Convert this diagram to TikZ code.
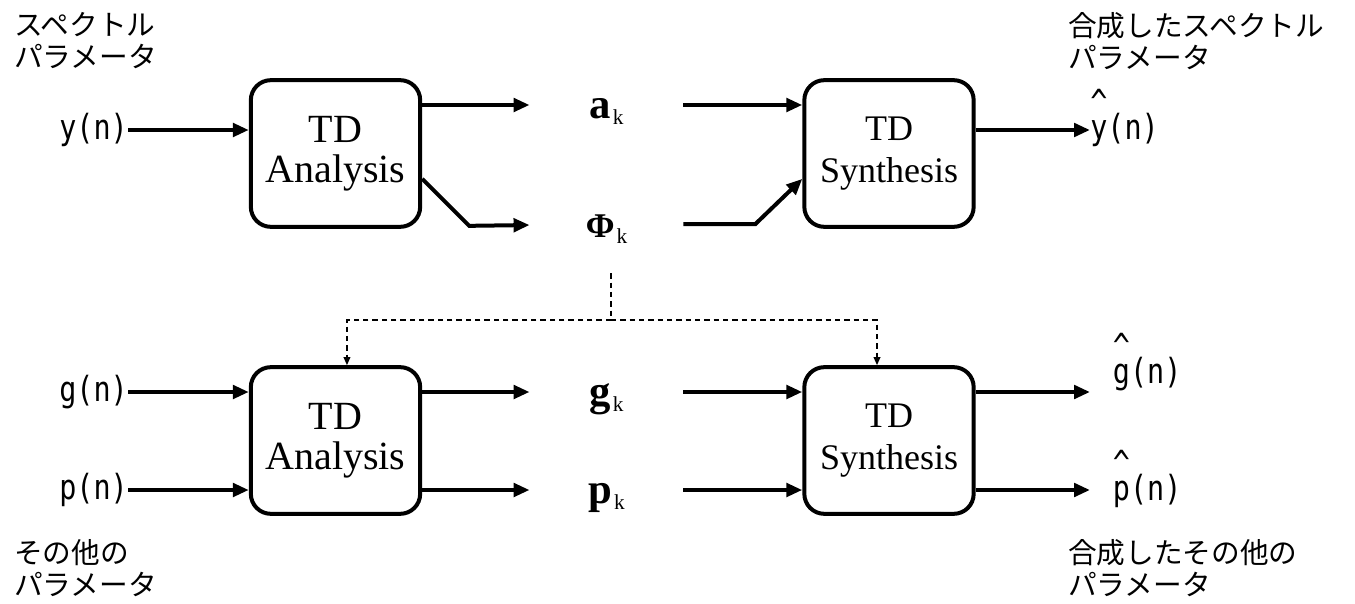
\documentclass[tikz,border=0pt]{standalone}
\usepackage{fontspec}
\setmainfont{Liberation Serif}
\newfontfamily\jpfont{Noto Sans CJK JP}
\newfontfamily\sigfont[FakeStretch=0.82]{DejaVu Sans Mono}
\usetikzlibrary{arrows.meta}

\newcommand{\hatted}[1]{\rlap{\raisebox{0.72em}[0pt][0pt]{\textasciicircum}}#1}
\newcommand{\subk}{\kern1.5pt\raisebox{-5pt}{\fontsize{16}{16}\selectfont k}}

\begin{document}
\begin{tikzpicture}[
x=0.75pt, y=-0.75pt,
tdbox/.style={
    draw,
    line width=3pt,
    rounded corners=15pt,
    minimum width=127pt,
    minimum height=110pt,
    align=center,
    inner sep=0pt},
ana/.style={tdbox, font=\fontsize{30}{30}\selectfont},
syn/.style={tdbox, font=\fontsize{27}{32}\selectfont},
sig/.style={font=\sigfont\fontsize{26}{26}\selectfont, inner sep=0pt},
outsig/.style={sig, anchor=west, inner xsep=17pt},
param/.style={
    minimum width=115pt,
    inner sep=0pt,
    text height=19.5pt,
    text depth=0pt,
    font=\fontsize{32}{32}\selectfont},
jp/.style={
    font=\jpfont\fontsize{21.5}{24}\selectfont,
    align=left,
    anchor=north west,
    inner sep=0pt},
arr/.style={line width=3pt, -{Triangle[length=12pt,width=10pt]}},
dasharr/.style={line width=1pt, dash pattern=on 4pt off 3pt, -{Triangle[length=6pt,width=5pt]}}
]
\useasboundingbox (0,0) rectangle (1355,603);

% blocks
\node at (335.5, 153.5) [ana] (ana1) {TD\\Analysis};
\node at (889, 153.5) [syn] (syn1) {TD\\Synthesis};
\node at (335.5, 440.5) [ana] (ana2) {TD\\Analysis};
\node at (889, 440.5) [syn] (syn2) {TD\\Synthesis};

% inputs
\node at (128, 130) [sig, anchor=east] (yn) {y(n)};
\node at (128, 392) [sig, anchor=east] (gn) {g(n)};
\node at (128, 490) [sig, anchor=east] (pn) {p(n)};

% parameters
\node at (606.5, 105) [param] (ak) {\textbf{a}\subk};
\node at (606.5, 224) [param] (phik) {{\fontsize{26}{26}\selectfont\textbf{Φ}}\subk};
\node at (606.5, 392) [param] (gk) {\textbf{g}\subk};
\node at (606.5, 490) [param] (pk) {\textbf{p}\subk};

% outputs
\node at (1090, 130) [sig, anchor=west] (yhat) {\hatted{y}(n)};
\node at (1090, 374) [outsig] (ghat) {\hatted{g}(n)};
\node at (1090, 491) [outsig] (phat) {\hatted{p}(n)};

% labels
\node at (14, 12) [jp] (jpin1) {スペクトル\\パラメータ};
\node at (1068, 12) [jp] (jpout1) {合成したスペクトル\\パラメータ};
\node at (14, 539) [jp] (jpin2) {その他の\\パラメータ};
\node at (1068, 539) [jp] (jpout2) {合成したその他の\\パラメータ};

% upper chain
\draw[arr] (yn) -- (yn -| ana1.west);
\draw[arr] (ana1.east |- ak) -- (ak);
\draw[arr] ([yshift=-19pt]ana1.east) -- ++(47,47) -- (phik);
\draw[arr] (ak) -- (ak -| syn1.west);
\draw[arr] (phik.east) -- ++(72,0) -- ([yshift=-19pt]syn1.west);
\draw[arr] (syn1.east |- yhat) -- (yhat);

% lower chain
\draw[arr] (gn) -- (gn -| ana2.west);
\draw[arr] (pn) -- (pn -| ana2.west);
\draw[arr] (ana2.east |- gk) -- (gk);
\draw[arr] (ana2.east |- pk) -- (pk);
\draw[arr] (gk) -- (gk -| syn2.west);
\draw[arr] (pk) -- (pk -| syn2.west);
\draw[arr] (syn2.east |- gk) -- (ghat.west |- gk);
\draw[arr] (syn2.east |- pk) -- (phat.west |- pk);

% phase shared with the lower blocks
\coordinate (fork) at (611, 320);
\draw[line width=1pt, dash pattern=on 4pt off 3pt] (phik.south -| fork) ++(0,36) -- (fork);
\draw[dasharr] (fork) -| ([xshift=8.6pt]ana2.north);
\draw[dasharr] (fork) -| ([xshift=-9pt]syn2.north);

\end{tikzpicture}
\end{document}
